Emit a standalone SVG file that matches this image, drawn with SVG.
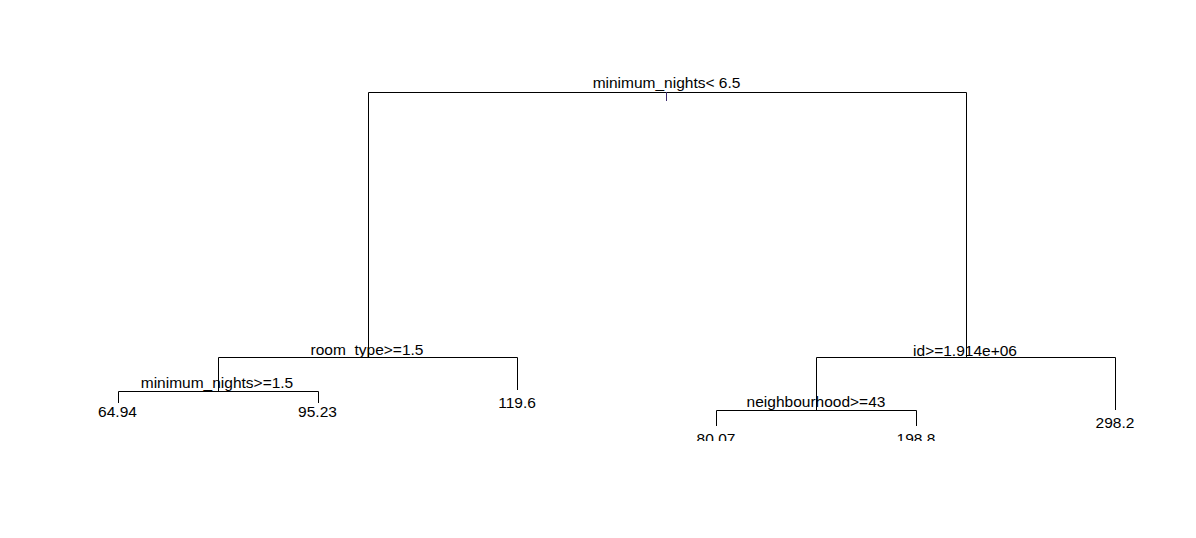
<svg xmlns="http://www.w3.org/2000/svg" width="1196" height="538" viewBox="0 0 1196 538">
<style>
.e{stroke:#000;stroke-width:1;fill:none}
.t{font-family:"Liberation Sans",Arial,sans-serif;font-size:15.5px;fill:#000;text-anchor:middle}
</style>
<defs><clipPath id="plot"><rect x="0" y="0" width="1196" height="441"/></clipPath></defs>
<rect width="1196" height="538" fill="#fff"/>
<g clip-path="url(#plot)">
<g id="connectors">
<path class="e" d="M368.5 357.5V92.5H966.5V357.5"/>
<path stroke="#3c2a6e" stroke-width="1" d="M666.5 92V101"/>
<path class="e" d="M218.5 391V357.5H517.5V390"/>
<path class="e" d="M118.5 403V391.5H318.5V403"/>
<path class="e" d="M816.5 410V357.5H1115.5V410"/>
<path class="e" d="M716.5 426V410.5H916.5V426"/>
</g>
<g id="n1"><text class="t" x="666.5" y="88">minimum_nights&lt; 6.5</text></g>
<g id="n2"><text class="t" x="367" y="355">room_type&gt;=1.5</text></g>
<g id="n3"><text class="t" x="965" y="356">id&gt;=1.914e+06</text></g>
<g id="n4"><text class="t" x="217" y="388">minimum_nights&gt;=1.5</text></g>
<g id="n5"><text class="t" x="816" y="407">neighbourhood&gt;=43</text></g>
<g id="l1"><text class="t" x="117.5" y="417">64.94</text></g>
<g id="l2"><text class="t" x="317.5" y="417">95.23</text></g>
<g id="l3"><text class="t" x="517" y="408">119.6</text></g>
<g id="l4"><text class="t" x="716" y="444">80.07</text></g>
<g id="l5"><text class="t" x="916" y="444">198.8</text></g>
<g id="l6"><text class="t" x="1115" y="428">298.2</text></g>
</g>
</svg>
